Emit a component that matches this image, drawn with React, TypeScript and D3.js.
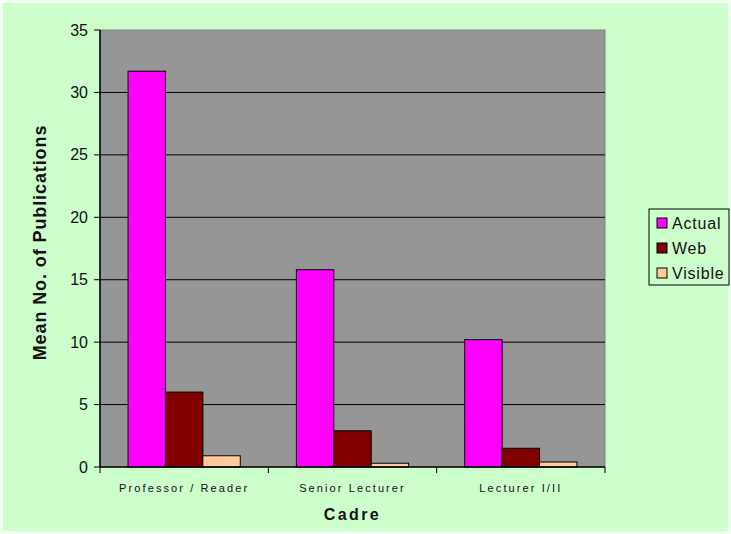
import React from 'react';
import * as d3 from 'd3';

const categories = ['Professor / Reader', 'Senior Lecturer', 'Lecturer I/II'];
const seriesNames = ['Actual', 'Web', 'Visible'];
const actual = [31.7, 15.8, 10.2];
const web = [6.0, 2.9, 1.5];
const visible = [0.9, 0.3, 0.4];
const yTicks = [0, 5, 10, 15, 20, 25, 30, 35];
const colors = ['#ff00ff', '#800000', '#ffcc99'];

export default function App() {
  const width = 731;
  const height = 534;
  const plot = { left: 100, right: 605, top: 30, bottom: 467 };
  const series = [actual, web, visible];

  const x = d3.scaleBand().domain(categories).range([plot.left, plot.right]).padding(0);
  const xs = d3
    .scaleBand()
    .domain(seriesNames)
    .range([0, x.bandwidth()])
    .paddingInner(0)
    .paddingOuter(0.75);
  const y = d3.scaleLinear().domain([0, 35]).range([plot.bottom, plot.top]);

  const font = 'Arial, "Liberation Sans", sans-serif';
  const ticksX = [...categories.map((c) => x(c) as number), plot.right];

  return (
    <svg
      width={width}
      height={height}
      style={{ position: 'absolute', left: 0, top: 0 }}
      fontFamily={font}
    >
      <rect x={0} y={0} width={width} height={height} fill="#f4fff4" />
      <rect x={3} y={3} width={width - 6} height={height - 6} fill="#ccffcc" />

      <rect
        x={plot.left}
        y={plot.top}
        width={plot.right - plot.left}
        height={plot.bottom - plot.top}
        fill="#969696"
        stroke="#808080"
        strokeWidth={1}
      />

      {yTicks.map((t) => (
        <g key={t}>
          {t > 0 && t < 35 && (
            <line x1={plot.left} x2={plot.right} y1={y(t)} y2={y(t)} stroke="#000" strokeWidth={1} />
          )}
          <line x1={plot.left - 6} x2={plot.left} y1={y(t)} y2={y(t)} stroke="#000" strokeWidth={1} />
          <text
            x={plot.left - 12}
            y={y(t)}
            textAnchor="end"
            dominantBaseline="central"
            fontSize={16}
            fill="#111"
          >
            {t}
          </text>
        </g>
      ))}

      {categories.map((c, i) =>
        series.map((s, j) => {
          const bx = (x(c) as number) + (xs(seriesNames[j]) as number);
          return (
            <rect
              key={c + j}
              x={bx}
              y={y(s[i])}
              width={xs.bandwidth()}
              height={y(0) - y(s[i])}
              fill={colors[j]}
              stroke="#000"
              strokeWidth={1}
            />
          );
        })
      )}

      <line x1={plot.left} x2={plot.left} y1={plot.top} y2={plot.bottom} stroke="#000" strokeWidth={1.5} />
      <line x1={plot.left} x2={plot.right} y1={plot.bottom} y2={plot.bottom} stroke="#000" strokeWidth={1.5} />
      {ticksX.map((tx, i) => (
        <line key={i} x1={tx} x2={tx} y1={plot.bottom} y2={plot.bottom + 6} stroke="#000" strokeWidth={1} />
      ))}

      {categories.map((c) => (
        <text
          key={c}
          x={(x(c) as number) + x.bandwidth() / 2}
          y={488}
          textAnchor="middle"
          dominantBaseline="central"
          fontSize={11}
          letterSpacing={2.1}
          fill="#111"
        >
          {c}
        </text>
      ))}

      <text
        x={(plot.left + plot.right) / 2}
        y={514}
        textAnchor="middle"
        dominantBaseline="central"
        fontSize={16}
        fontWeight="bold"
        letterSpacing={2.4}
        fill="#111"
      >
        Cadre
      </text>

      <text
        transform={`translate(40, ${(plot.top + plot.bottom) / 2 - 6}) rotate(-90)`}
        textAnchor="middle"
        dominantBaseline="central"
        fontSize={18}
        fontWeight="bold"
        letterSpacing={0.9}
        fill="#111"
      >
        Mean No. of Publications
      </text>

      <g>
        <rect x={649} y={209} width={80} height={76} fill="#ccffcc" stroke="#000" strokeWidth={1} />
        {seriesNames.map((n, j) => (
          <g key={n} transform={`translate(657, ${223 + j * 25})`}>
            <rect x={0} y={-5} width={10} height={10} fill={colors[j]} stroke="#000" strokeWidth={1} />
            <text x={15} y={0} dominantBaseline="central" fontSize={16} letterSpacing={0.8} fill="#111">
              {n}
            </text>
          </g>
        ))}
      </g>
    </svg>
  );
}
